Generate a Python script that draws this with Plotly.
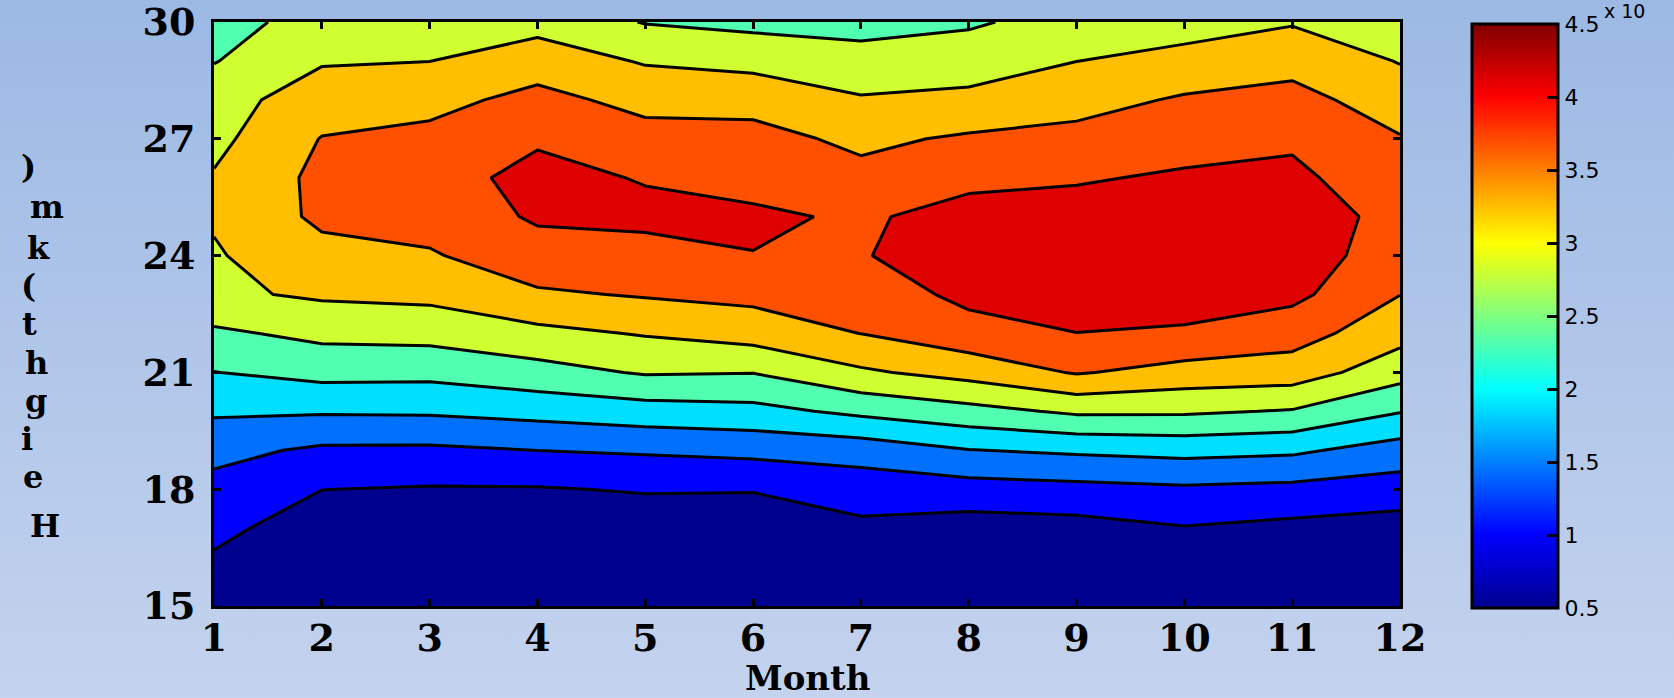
import base64
import plotly.graph_objects as go

# ---------------- data ----------------
months = list(range(1, 13))
heights = list(range(15, 31))          # km, bottom -> top
month_ticks = [str(m) for m in months]
height_ticks = [15, 18, 21, 24, 27, 30]
cbar_ticks = [0.5, 1, 1.5, 2, 2.5, 3, 3.5, 4, 4.5]
cbar_text = ["0.5", "1", "1.5", "2", "2.5", "3", "3.5", "4", "4.5"]

# values (x 10^n) for each month, listed from 15 km up to 30 km
m01 = [0.633, 0.856, 1.056, 1.256, 1.513, 1.896, 2.269, 2.642, 3.091, 3.125, 3.211, 3.202, 3.051, 3.002, 2.700, 2.500]
m02 = [0.522, 0.589, 0.722, 0.949, 1.318, 1.878, 2.416, 2.833, 3.229, 3.469, 3.704, 3.722, 3.629, 3.376, 3.131, 2.944]
m03 = [0.522, 0.589, 0.722, 0.913, 1.309, 1.891, 2.402, 2.869, 3.278, 3.567, 3.793, 3.927, 3.727, 3.478, 3.162, 2.989]
m04 = [0.522, 0.589, 0.722, 0.913, 1.393, 1.980, 2.562, 3.047, 3.549, 3.887, 4.109, 4.153, 4.016, 3.740, 3.407, 3.007]
m05 = [0.522, 0.589, 0.678, 0.980, 1.442, 2.087, 2.762, 3.198, 3.647, 3.931, 4.140, 4.033, 3.771, 3.478, 3.127, 2.700]
m06 = [0.522, 0.589, 0.700, 0.967, 1.513, 2.144, 2.736, 3.353, 3.731, 4.047, 4.113, 3.940, 3.744, 3.473, 3.024, 2.607]
m07 = [0.522, 0.633, 0.856, 1.144, 1.584, 2.380, 3.100, 3.616, 3.816, 4.024, 4.011, 3.727, 3.522, 3.207, 2.887, 2.567]
m08 = [0.522, 0.633, 0.744, 1.211, 1.820, 2.576, 3.327, 3.891, 4.162, 4.322, 4.171, 3.976, 3.669, 3.273, 2.953, 2.664]
m09 = [0.522, 0.633, 0.789, 1.260, 1.904, 2.798, 3.647, 4.051, 4.233, 4.411, 4.220, 4.016, 3.740, 3.456, 3.162, 2.900]
m10 = [0.522, 0.656, 0.922, 1.322, 1.971, 2.789, 3.438, 4.011, 4.211, 4.376, 4.278, 4.109, 3.896, 3.660, 3.322, 2.962]
m11 = [0.522, 0.656, 0.833, 1.273, 1.913, 2.691, 3.398, 3.798, 4.167, 4.198, 4.273, 4.149, 3.989, 3.749, 3.469, 3.131]
m12 = [0.522, 0.633, 0.744, 1.184, 1.638, 2.300, 2.896, 3.327, 3.616, 3.913, 3.922, 3.780, 3.638, 3.402, 3.144, 2.900]

columns = [m01, m02, m03, m04, m05, m06, m07, m08, m09, m10, m11, m12]
z = [[col[i] for col in columns] for i in range(len(heights))]

# contour levels (10 equal steps between 0.5 and 4.5)
lev_start = 0.5 + 4 / 9
lev_step = 4 / 9
lev_end = 0.5 + 32 / 9

# ---------------- styles ----------------
band_colors = ["#00008F", "#0000FF", "#0070FF", "#00DFFF", "#50FFAF",
               "#CFFF30", "#FFBF00", "#FF5000", "#DF0000"]
nb = len(band_colors) - 1
fill_scale = [[k / nb, c] for k, c in enumerate(band_colors)]

jet = [[0.0, "rgb(0,0,143)"], [0.125, "rgb(0,0,255)"], [0.375, "rgb(0,255,255)"],
       [0.625, "rgb(255,255,0)"], [0.875, "rgb(255,0,0)"], [1.0, "rgb(128,0,0)"]]

W, H = 1674, 698
L, R, T, B = 214, 274, 22, 92
PW, PH = W - L - R, H - T - B

def px_x(px):
    return (px - L) / PW

def px_y(py):
    return (T + PH - py) / PH

serif_bold = dict(family="DejaVu Serif", size=38, color="black", weight="bold")

fig = go.Figure()

fig.add_trace(go.Contour(
    x=months, y=heights, z=z,
    autocontour=False,
    contours=dict(start=lev_start, end=lev_end, size=lev_step, coloring="fill"),
    colorscale=fill_scale,
    showscale=False,
    line=dict(color="black", width=3, smoothing=0),
    hoverinfo="skip",
))

# colour bar (continuous jet, 0.5 .. 4.5)
fig.add_trace(go.Scatter(
    x=[None], y=[None], mode="markers", showlegend=False, hoverinfo="skip",
    marker=dict(
        color=[cbar_ticks[0], cbar_ticks[-1]], colorscale=jet,
        cmin=cbar_ticks[0], cmax=cbar_ticks[-1], showscale=True,
        colorbar=dict(
            x=px_x(1472), xanchor="left", xpad=0,
            y=px_y(24), yanchor="top", ypad=0,
            thickness=86, lenmode="pixels", len=584,
            outlinewidth=3, outlinecolor="black",
            tickvals=cbar_ticks, ticktext=cbar_text,
            ticks="inside", ticklen=12, tickwidth=3, tickcolor="black",
            tickfont=dict(family="DejaVu Sans", size=22, color="black"),
        ),
    ),
))

# gradient background
svg = ('<svg xmlns="http://www.w3.org/2000/svg" width="10" height="100" '
       'preserveAspectRatio="none"><defs><linearGradient id="g" x1="0" y1="0" '
       'x2="0" y2="1"><stop offset="0" stop-color="#9CB9E4"/>'
       '<stop offset="1" stop-color="#C4D3EE"/></linearGradient></defs>'
       '<rect width="10" height="100" fill="url(#g)"/></svg>')
bg_src = "data:image/svg+xml;base64," + base64.b64encode(svg.encode()).decode()

annotations = [
    dict(text="Month", xref="x", x=6.5, yref="paper", y=px_y(678),
         xanchor="center", yanchor="middle", showarrow=False,
         font=dict(family="DejaVu Serif", size=34, color="black", weight="bold")),
    dict(text="x 10", xref="paper", x=px_x(1602), yref="paper", y=px_y(11),
         xanchor="left", yanchor="middle", showarrow=False,
         font=dict(family="DejaVu Sans", size=19, color="black")),
]

# y-axis title as drawn in the source: characters stacked vertically
ytitle = ")mk(thgieH"
ytitle_x = [28, 47, 38, 28, 29, 36, 36, 27, 33, 45]
ytitle_y = [167, 207, 248, 286, 324, 363, 401, 439, 477, 526]
for ch, cx, cy in zip(ytitle, ytitle_x, ytitle_y):
    annotations.append(dict(
        text=ch, xref="paper", x=px_x(cx), yref="paper", y=px_y(cy),
        xanchor="center", yanchor="middle", showarrow=False,
        font=dict(family="DejaVu Serif", size=32, color="black", weight="bold")))

axis_common = dict(
    showline=True, linewidth=3, linecolor="black", mirror="ticks",
    ticks="inside", ticklen=7, tickwidth=3, tickcolor="black",
    showgrid=False, zeroline=False, tickfont=serif_bold,
    ticklabeloverflow="allow", automargin=False,
)

fig.update_layout(
    width=W, height=H, autosize=False,
    margin=dict(l=L, r=R, t=T, b=B, pad=0, autoexpand=False),
    paper_bgcolor="#B0C6E9", plot_bgcolor="rgba(0,0,0,0)",
    xaxis=dict(range=[1, 12], tickvals=months, ticktext=month_ticks,
               ticklabelstandoff=-4, **axis_common),
    yaxis=dict(range=[15, 30], tickvals=height_ticks,
               ticktext=[str(t) for t in height_ticks],
               ticklabelstandoff=8, **axis_common),
    images=[dict(source=bg_src, xref="paper", yref="paper",
                 x=px_x(0), y=px_y(0), sizex=W / PW, sizey=H / PH,
                 xanchor="left", yanchor="top", sizing="stretch", layer="below")],
    annotations=annotations,
    showlegend=False,
)

fig.write_html("out.html", config={"displayModeBar": False})
